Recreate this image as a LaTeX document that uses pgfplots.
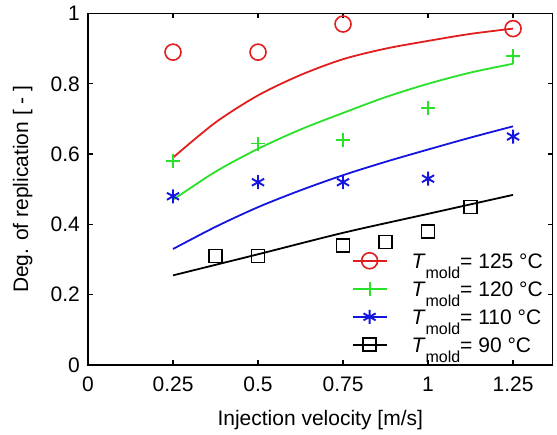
\documentclass[border=0pt]{standalone}
\usepackage{fontspec}
\setmainfont{Liberation Sans}
\usepackage{pgfplots}
\pgfplotsset{compat=1.18}
\definecolor{mred}{RGB}{225,30,30}
\definecolor{mgreen}{RGB}{40,225,40}
\definecolor{mblue}{RGB}{20,20,225}
\newcommand{\Tm}{\textit{T}\raisebox{-10pt}[0pt][0pt]{\fontsize{16}{16}\selectfont mold}}
\pgfplotsset{
  leg/.style={legend image code/.code={%
    \draw[##1] (0pt,0pt) -- (34pt,0pt);
    \draw[##1, mark repeat=1] plot coordinates {(17pt,0pt)};}}
}
\begin{document}
\fontsize{21}{24}\selectfont
\begin{tikzpicture}
\begin{axis}[
  scale only axis,
  width=464.5pt, height=351.5pt,
  xmin=0, xmax=1.366, ymin=0, ymax=1,
  xtick={0,0.25,0.5,0.75,1,1.25},
  ytick={0,0.2,0.4,0.6,0.8,1},
  tick align=inside,
  major tick length=5pt,
  axis line style={line width=1.6pt},
  tick style={line width=1.3pt, black},
  /pgf/number format/assume math mode=true,
  tick label style={font=\fontsize{21}{24}\selectfont},
  xticklabel style={yshift=-5pt},
  yticklabel style={xshift=-1pt},
  label style={font=\fontsize{21}{24}\selectfont},
  xlabel={Injection velocity [m/s]},
  ylabel={Deg. of replication [ - ]},
  xlabel shift=4pt,
  ylabel shift=4pt,
  legend style={draw=none, fill=none, at={(axis cs:1.338,0.036)}, anchor=south east,
    font=\fontsize{21}{24}\selectfont, inner sep=0pt,
    nodes={inner sep=0pt, text height=15pt, text depth=0pt},
    row sep=12.8pt, column sep=24pt},
  legend cell align=left,
]
\coordinate (bl) at (rel axis cs:0,0);
\coordinate (tr) at (rel axis cs:1,1);
% legend entries
\addplot[mred, line width=1.8pt, mark=o, mark size=8pt, mark options={solid, line width=1.6pt}, leg] coordinates {(-1,-1)};
\addlegendentry{\Tm= 125 °C}
\addplot[mgreen, line width=1.8pt, mark=+, mark size=7pt, mark options={line width=1.8pt}, leg] coordinates {(-1,-1)};
\addlegendentry{\Tm= 120 °C}
\addplot[mblue, line width=1.8pt, mark=asterisk, mark size=7pt, mark options={line width=1.9pt}, leg] coordinates {(-1,-1)};
\addlegendentry{\Tm= 110 °C}
\addplot[black, line width=1.8pt, mark=square, mark size=6.5pt, mark options={line width=1.6pt}, leg] coordinates {(-1,-1)};
\addlegendentry{\Tm= 90 °C}

% fit lines
\addplot[mred, line width=1.8pt, smooth, forget plot] coordinates {
(0.25,0.590) (0.375,0.690) (0.5,0.767) (0.625,0.825) (0.75,0.870) (0.875,0.900) (1.0,0.922) (1.125,0.942) (1.25,0.957)};
\addplot[mgreen, line width=1.8pt, smooth, forget plot] coordinates {
(0.25,0.470) (0.375,0.550) (0.5,0.615) (0.625,0.670) (0.75,0.717) (0.875,0.762) (1.0,0.800) (1.125,0.832) (1.25,0.857)};
\addplot[mgreen, line width=1.8pt, forget plot] coordinates {(1.25,0.857) (1.25,0.88)};
\addplot[mblue, line width=1.8pt, smooth, forget plot] coordinates {
(0.25,0.330) (0.375,0.393) (0.5,0.449) (0.625,0.497) (0.75,0.540) (0.875,0.578) (1.0,0.613) (1.125,0.647) (1.25,0.679)};
\addplot[black, line width=1.8pt, smooth, forget plot] coordinates {
(0.25,0.255) (0.5,0.315) (0.75,0.376) (1.0,0.430) (1.25,0.484)};

% data markers
\addplot[mred, only marks, mark=o, mark size=8pt, mark options={line width=1.6pt}, forget plot] coordinates {
(0.25,0.89) (0.5,0.89) (0.75,0.97) (1.25,0.957)};
\addplot[mgreen, only marks, mark=+, mark size=7pt, mark options={line width=1.8pt}, forget plot] coordinates {
(0.25,0.58) (0.5,0.63) (0.75,0.64) (1.0,0.73) (1.25,0.88)};
\addplot[mblue, only marks, mark=asterisk, mark size=7pt, mark options={line width=1.9pt}, forget plot] coordinates {
(0.25,0.48) (0.5,0.52) (0.75,0.52) (1.0,0.53) (1.25,0.65)};
\addplot[black, only marks, mark=square, mark size=6.5pt, mark options={line width=1.6pt}, forget plot] coordinates {
(0.375,0.31) (0.5,0.31) (0.75,0.34) (0.875,0.35) (1.0,0.38) (1.125,0.45)};
\end{axis}
\pgfresetboundingbox
\path[use as bounding box] ([shift={(-88pt,-69pt)}]bl) rectangle ([shift={(4.5pt,13.5pt)}]tr);
\end{tikzpicture}
\end{document}
